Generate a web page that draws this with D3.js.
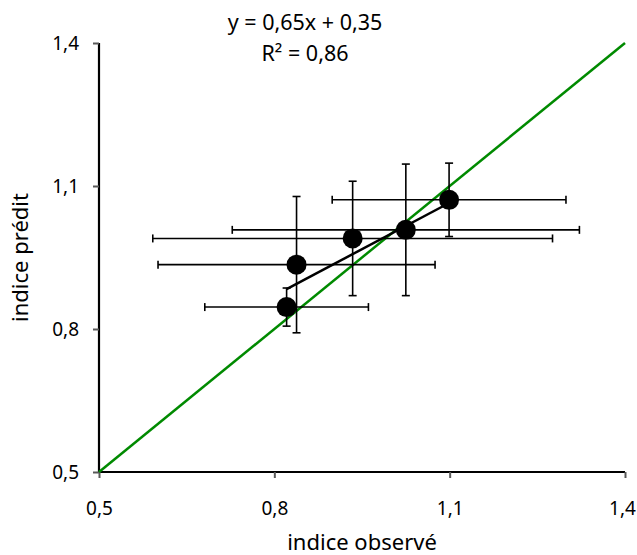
<!DOCTYPE html>
<html>
<head>
<meta charset="utf-8">
<script src="https://cdn.jsdelivr.net/npm/d3@7"></script>
<style>
  body { margin: 0; background: #fff; }
  svg text { font-family: "Noto Sans", sans-serif; fill: #000; }
</style>
</head>
<body>
<div id="chart"></div>
<script>
// observed vs predicted index, with error bars in both directions
const observed  = [0.821, 0.838, 0.934, 1.025, 1.099];
const predicted = [0.846, 0.935, 0.990, 1.008, 1.071];
const errObs    = [0.140, 0.237, 0.342, 0.297, 0.200];
const errPred   = [0.040, 0.143, 0.120, 0.138, 0.077];

const slope = 0.65, intercept = 0.35, r2 = "0,86";
const ticks = [0.5, 0.8, 1.1, 1.4];
const fmt = d => d3.format(".1f")(d).replace(".", ",");

const width = 637, height = 555;
const margin = { top: 43, right: 12, bottom: 83, left: 99 };
const innerW = width - margin.left - margin.right;
const innerH = height - margin.top - margin.bottom;

const svg = d3.select("#chart").append("svg")
  .attr("width", width)
  .attr("height", height);

const g = svg.append("g")
  .attr("transform", `translate(${margin.left},${margin.top})`);

const x = d3.scaleLinear().domain([0.5, 1.4]).range([0, innerW]);
const y = d3.scaleLinear().domain([0.5, 1.4]).range([innerH, 0]);

const rows = observed.map((v, i) => ({
  x: v, y: predicted[i], ex: errObs[i], ey: errPred[i]
}));

// axes
const xAxis = g.append("g")
  .attr("transform", `translate(0,${innerH})`)
  .call(d3.axisBottom(x).tickValues(ticks).tickFormat(fmt).tickSize(6).tickPadding(24));

const yAxis = g.append("g")
  .call(d3.axisLeft(y).tickValues(ticks).tickFormat(fmt).tickSize(6).tickPadding(14));

[xAxis, yAxis].forEach(a => {
  a.selectAll(".tick line").attr("stroke", "#595959").attr("stroke-width", 2);
  a.selectAll(".tick text").attr("font-size", 19).attr("font-family", "Noto Sans");
});
// last x label sits on the right edge, keep it inside the window
xAxis.selectAll(".tick text").filter(d => d === 1.4).attr("dx", -3);

// Excel style: plain axis line, no outer tick ends
xAxis.select(".domain").attr("d", `M0,0H${innerW}`)
  .style("stroke", "#000").style("stroke-width", "2.2px");
yAxis.select(".domain").attr("d", `M0,0V${innerH}`)
  .style("stroke", "#000").style("stroke-width", "2.2px");

// y = x reference line
g.append("line")
  .attr("x1", x(0.5)).attr("y1", y(0.5))
  .attr("x2", x(1.4)).attr("y2", y(1.4))
  .attr("stroke", "#008a00")
  .attr("stroke-width", 2.5);

// error bars
const cap = 4;
const eb = g.append("g").attr("stroke", "#000").attr("stroke-width", 1.6);

rows.forEach(d => {
  eb.append("line")
    .attr("x1", x(d.x - d.ex)).attr("x2", x(d.x + d.ex))
    .attr("y1", y(d.y)).attr("y2", y(d.y));
  eb.append("line")
    .attr("x1", x(d.x - d.ex)).attr("x2", x(d.x - d.ex))
    .attr("y1", y(d.y) - cap).attr("y2", y(d.y) + cap);
  eb.append("line")
    .attr("x1", x(d.x + d.ex)).attr("x2", x(d.x + d.ex))
    .attr("y1", y(d.y) - cap).attr("y2", y(d.y) + cap);

  eb.append("line")
    .attr("x1", x(d.x)).attr("x2", x(d.x))
    .attr("y1", y(d.y - d.ey)).attr("y2", y(d.y + d.ey));
  eb.append("line")
    .attr("x1", x(d.x) - cap).attr("x2", x(d.x) + cap)
    .attr("y1", y(d.y - d.ey)).attr("y2", y(d.y - d.ey));
  eb.append("line")
    .attr("x1", x(d.x) - cap).attr("x2", x(d.x) + cap)
    .attr("y1", y(d.y + d.ey)).attr("y2", y(d.y + d.ey));
});

// trend line over the observed range
const xr = d3.extent(observed);
g.append("line")
  .attr("x1", x(xr[0])).attr("y1", y(slope * xr[0] + intercept))
  .attr("x2", x(xr[1])).attr("y2", y(slope * xr[1] + intercept))
  .attr("stroke", "#000")
  .attr("stroke-width", 2.5);

// points
g.selectAll("circle")
  .data(rows)
  .enter()
  .append("circle")
  .attr("cx", d => x(d.x))
  .attr("cy", d => y(d.y))
  .attr("r", 10)
  .attr("fill", "#000");

// equation
const fmt2 = d => d3.format(".2f")(d).replace(".", ",");
svg.append("text")
  .attr("x", 305).attr("y", 30)
  .attr("text-anchor", "middle")
  .attr("font-size", 21.5)
  .text(`y = ${fmt2(slope)}x + ${fmt2(intercept)}`);
svg.append("text")
  .attr("x", 305).attr("y", 61)
  .attr("text-anchor", "middle")
  .attr("font-size", 21.5)
  .text(`R² = ${r2}`);

// axis titles
svg.append("text")
  .attr("x", margin.left + innerW / 2)
  .attr("y", 550)
  .attr("text-anchor", "middle")
  .attr("font-size", 22)
  .text("indice observé");

svg.append("text")
  .attr("transform", `translate(28,${margin.top + innerH / 2}) rotate(-90)`)
  .attr("text-anchor", "middle")
  .attr("font-size", 22)
  .text("indice prédit");
</script>
</body>
</html>
